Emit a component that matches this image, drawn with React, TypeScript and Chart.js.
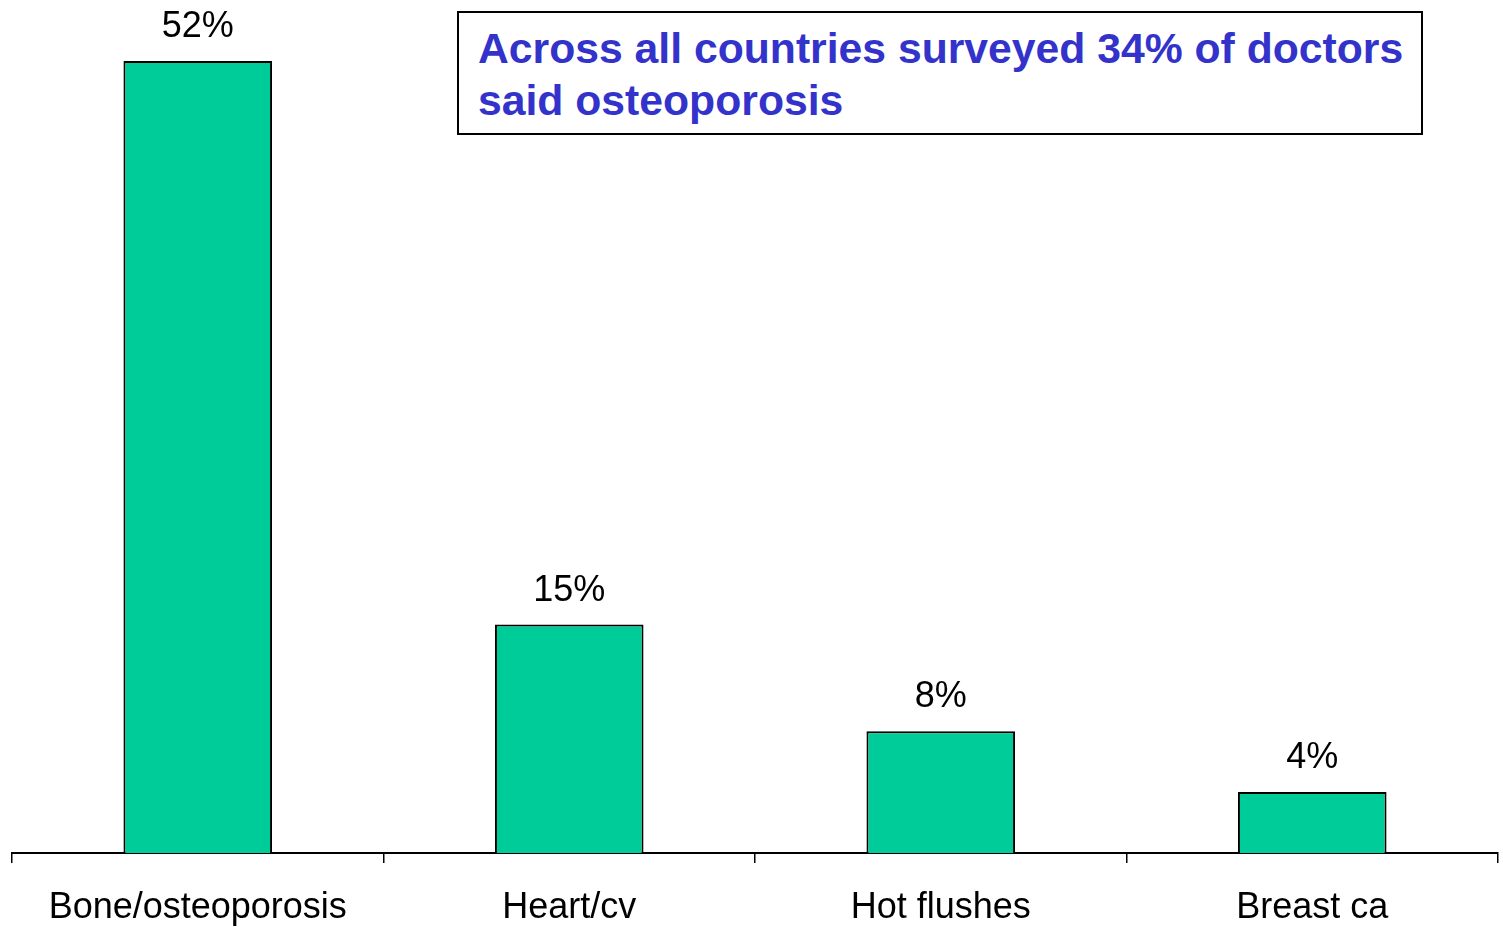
import React, { useEffect, useRef } from "react";
import { Chart, registerables } from "chart.js";

Chart.register(...registerables);

const categories = ["Bone/osteoporosis", "Heart/cv", "Hot flushes", "Breast ca"];
const values = [52, 15, 8, 4];
const noteLines = ["Across all countries surveyed 34% of doctors", "said osteoporosis"];

const valueLabels = {
  id: "valueLabels",
  afterDatasetsDraw(chart: any) {
    const ctx = chart.ctx;
    const meta = chart.getDatasetMeta(0);
    ctx.save();
    ctx.font = "36px 'Liberation Sans', Arial, sans-serif";
    ctx.fillStyle = "#000";
    ctx.textAlign = "center";
    ctx.textBaseline = "alphabetic";
    meta.data.forEach((bar: any, i: number) => {
      ctx.fillText(values[i] + "%", bar.x, bar.y - 24);
    });
    ctx.restore();
  },
};

export default function App() {
  const ref = useRef<HTMLCanvasElement>(null);
  useEffect(() => {
    if (!ref.current) return;
    const chart = new Chart(ref.current, {
      type: "bar",
      data: {
        labels: categories,
        datasets: [
          {
            data: values,
            backgroundColor: "#00CC99",
            borderColor: "#000",
            borderWidth: 2,
            barPercentage: 0.4,
            categoryPercentage: 1,
          },
        ],
      },
      options: {
        animation: false,
        responsive: true,
        maintainAspectRatio: false,
        layout: { padding: { left: 12, right: 5, top: 0, bottom: 0 } },
        plugins: { legend: { display: false }, tooltip: { enabled: false } },
        scales: {
          x: {
            afterFit(scale: any) {
              scale.height = 74;
            },
            grid: {
              offset: true,
              drawOnChartArea: false,
              drawTicks: true,
              tickLength: 10,
              color: "#000",
              lineWidth: 1.5,
            },
            border: { display: true, color: "#000", width: 2 },
            ticks: {
              color: "#000",
              padding: 23,
              font: { size: 36, family: "'Liberation Sans', Arial, sans-serif" },
            },
          },
          y: { display: false, min: 0, max: 56 },
        },
      },
      plugins: [valueLabels],
    });
    return () => chart.destroy();
  }, []);
  return (
    <div style={{ position: "absolute", left: 0, top: 0, width: 1503, height: 927, background: "#fff" }}>
      <canvas ref={ref} />
      <div
        style={{
          position: "absolute",
          left: 457,
          top: 11,
          width: 966,
          height: 124,
          boxSizing: "border-box",
          border: "2px solid #000",
          background: "#fff",
          color: "#3333CC",
          fontFamily: "'Liberation Sans', Arial, sans-serif",
          fontWeight: "bold",
          fontSize: 42.7,
          lineHeight: "52px",
          padding: "9px 0 0 19px",
          whiteSpace: "nowrap",
        }}
      >
        {noteLines.map((l, i) => (
          <div key={i}>{l}</div>
        ))}
      </div>
    </div>
  );
}
